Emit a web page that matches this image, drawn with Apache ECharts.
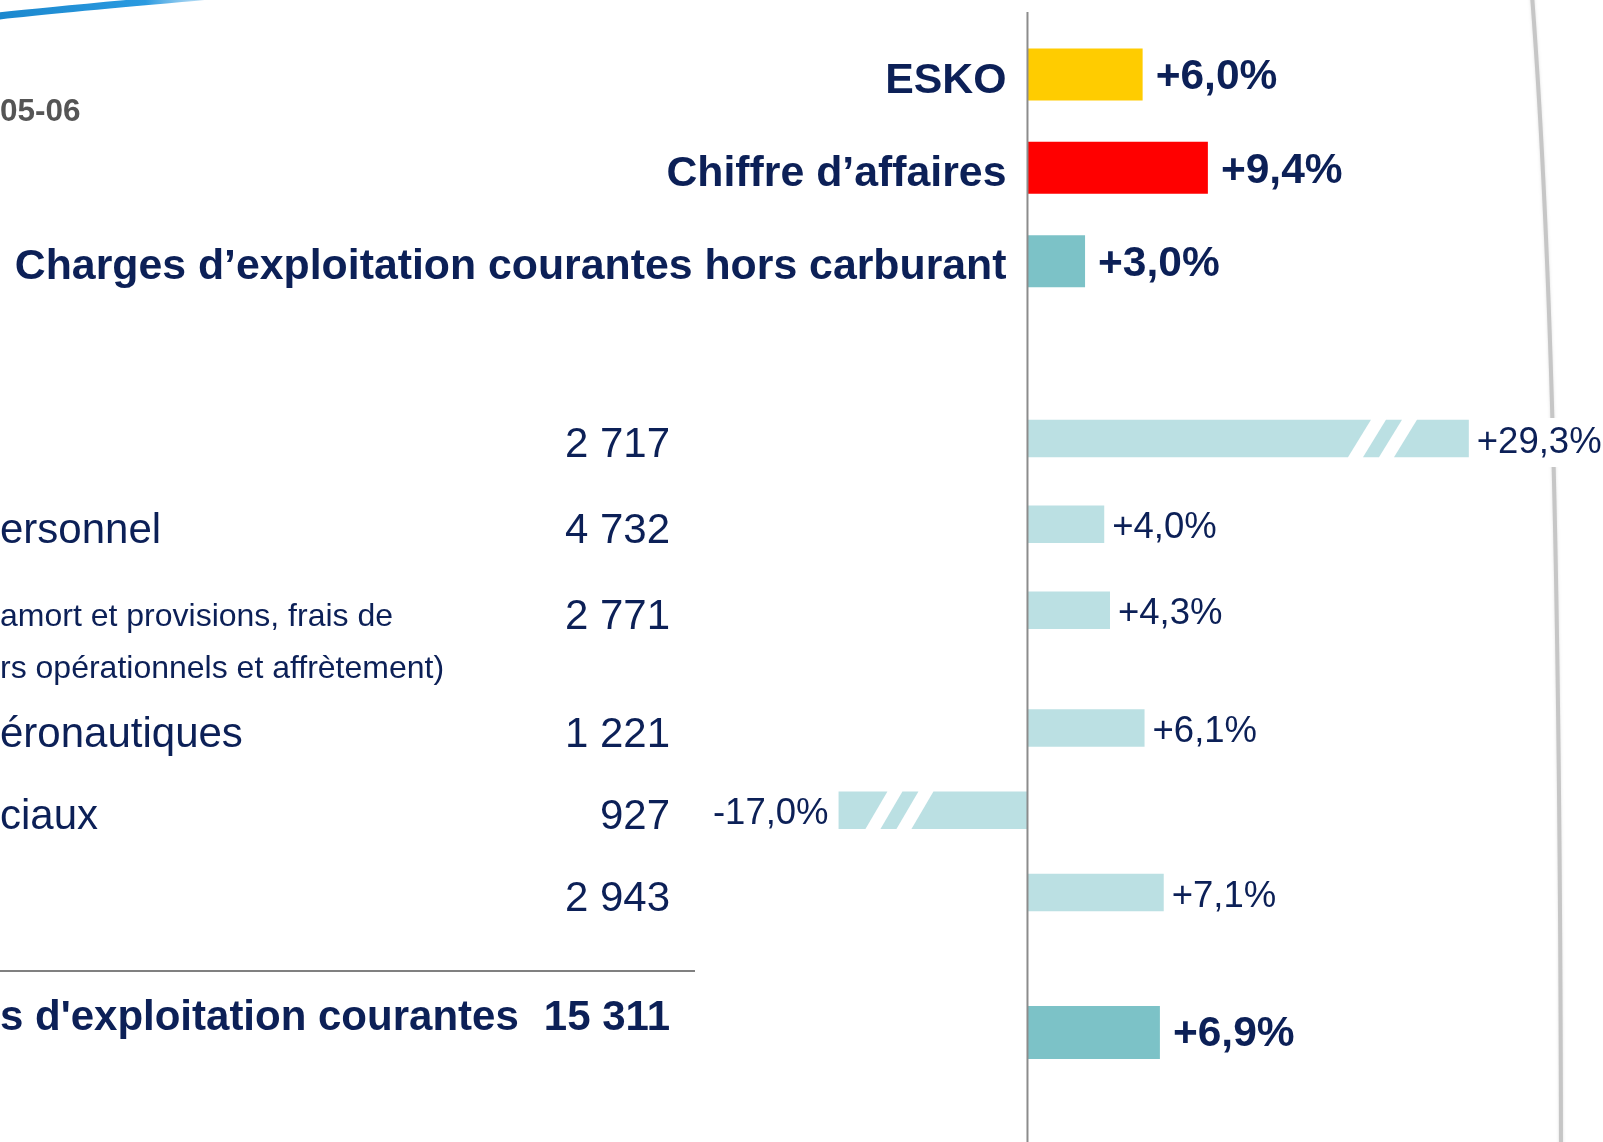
<!DOCTYPE html>
<html lang="fr">
<head>
<meta charset="UTF-8">
<title>Charges d'exploitation courantes</title>
<style>
  html, body { margin: 0; padding: 0; background: #fff; }
  #main { width: 1603px; height: 1142px; }
</style>
<script src="https://cdn.jsdelivr.net/npm/echarts@6.0.0/dist/echarts.min.js"></script>
</head>
<body>
<div id="main"></div>
<script>
// --- data ---
var headCats = ['ESKO', 'Chiffre d’affaires', 'Charges d’exploitation courantes hors carburant'];
var headValues = [6.0, 9.4, 3.0];

var detailNames = ['', 'ersonnel', 'amort et provisions, frais de\nrs opérationnels et affrètement)', 'éronautiques', 'ciaux', ''];
var detailAmounts = [2717, 4732, 2771, 1221, 927, 2943];
var detailValues = [29.3, 4.0, 4.3, 6.1, -17.0, 7.1];

var totalName = 's d\'exploitation courantes';
var totalAmount = 15311;
var totalValue = 6.9;

var periodText = '05-06';

// --- styles / layout ---
var navy = '#0c2057';
var headColors = ['#ffcc00', '#ff0000', '#7cc2c7'];
var detailColor = '#bbe0e3';
var totalColor = '#7cc2c7';
var FONT = '"Liberation Sans", Arial, Helvetica, sans-serif';
var GRID_LEFT = 781;

// the detail table is split in two blocks (the two-line row makes the gap uneven)
var detailBlocks = [
  { from: 0, to: 3, top: 395.5, height: 257.7 },
  { from: 3, to: 6, top: 686.8, height: 246.8 }
];

// axis breaks for the two very long bars (drawn with two white slashes)
var axisBreaks = [
  { start: -15.6, end: -4.9, gap: '8.74%' },
  { start: 16.7, end: 26.6, gap: '8.87%' }
];
var cutGap = 15, cutPiece = 16;

function fmtPct(v) {
  return (v > 0 ? '+' : '') + v.toFixed(1).replace('.', ',') + '%';
}
function fmtAmount(n) {
  return String(n).replace(/\B(?=(\d{3})+(?!\d))/g, ' ');
}

function makeRender(opt) {
  return function (params, api) {
    var v = api.value(0), c = api.value(1);
    var base = api.coord([0, c]);
    var tip = api.coord([v, c]);
    var h = opt.barHeight;
    var yt = base[1] - h / 2, yb = base[1] + h / 2;
    var lo = Math.min(base[0], tip[0]), hi = Math.max(base[0], tip[0]);
    var color = opt.colors ? opt.colors[params.dataIndex] : opt.color;
    var children = [];
    var br = null;
    axisBreaks.forEach(function (b) {
      if ((v > 0 && b.start > 0 && v > b.end) || (v < 0 && b.end < 0 && v < b.start)) br = b;
    });
    if (br) {
      var pl = api.coord([br.start, c])[0], ph = api.coord([br.end, c])[0];
      var slant = (ph - pl) - 2 * cutGap - cutPiece;
      var segs = [
        [lo, pl, lo, pl + slant],
        [pl + cutGap, pl + cutGap + cutPiece, pl + cutGap + slant, pl + cutGap + cutPiece + slant],
        [ph - slant, hi, ph, hi]
      ];
      segs.forEach(function (s) {
        children.push({
          type: 'polygon',
          shape: { points: [[s[0], yb], [s[1], yb], [s[3], yt], [s[2], yt]] },
          style: { fill: color }
        });
      });
    } else {
      children.push({
        type: 'rect',
        shape: { x: lo, y: yt, width: hi - lo, height: h },
        style: { fill: color }
      });
    }
    children.push({
      type: 'text',
      x: v >= 0 ? hi + opt.labelGap : lo - opt.labelGap,
      y: base[1] + (opt.labelDy || 0),
      style: {
        text: fmtPct(v),
        align: v >= 0 ? 'left' : 'right',
        verticalAlign: 'middle',
        fill: navy,
        fontSize: opt.fontSize,
        fontWeight: opt.fontWeight,
        fontFamily: FONT,
        backgroundColor: '#fff',
        padding: [6, 2, 6, 0]
      }
    });
    return { type: 'group', children: children };
  };
}

function xAxisFor(gridIndex) {
  return {
    type: 'value',
    gridIndex: gridIndex,
    min: -20,
    max: 34,
    show: false,
    splitLine: { show: false },
    breaks: axisBreaks.map(function (b) { return { start: b.start, end: b.end, gap: b.gap }; }),
    breakArea: { show: false }
  };
}

function detailLabel(i) {
  var lines = detailNames[i].split('\n');
  var amt = fmtAmount(detailAmounts[i]);
  if (lines.length === 1) {
    return '{n|' + (lines[0] || ' ') + '}{v|' + amt + '}';
  }
  var out = '{v| }\n{ns|' + lines[0] + '}{v|' + amt + '}';
  for (var k = 1; k < lines.length; k++) out += '\n{ns|' + lines[k] + '}{v| }';
  return out;
}

function gridAt(top, height) {
  return { left: GRID_LEFT, right: 44, top: top, height: height, outerBoundsMode: 'none', containLabel: false };
}

var grids = [gridAt(27.8, 280)];
var xAxes = [xAxisFor(0)];
var yAxes = [{
  type: 'category', gridIndex: 0, inverse: true,
  data: headCats,
  axisLine: { show: false, onZero: false },
  axisTick: { show: false },
  axisLabel: {
    interval: 0, margin: 21, color: navy, fontFamily: FONT,
    formatter: function (value) { return '{h|' + value + '}'; },
    rich: {
      h: { fontSize: 42.8, fontWeight: 'bold', color: navy, fontFamily: FONT, padding: [13, 0, 0, 0] }
    }
  }
}];
var series = [{
  type: 'custom', xAxisIndex: 0, yAxisIndex: 0, silent: true,
  encode: { x: 0, y: 1 },
  data: headValues.map(function (v, i) { return [v, i]; }),
  renderItem: makeRender({ barHeight: 52, colors: headColors, fontSize: 42.5, fontWeight: 'bold', labelGap: 13, labelDy: 3 })
}];

detailBlocks.forEach(function (blk) {
  var gi = grids.length;
  var idx = [];
  for (var i = blk.from; i < blk.to; i++) idx.push(i);
  grids.push(gridAt(blk.top, blk.height));
  xAxes.push(xAxisFor(gi));
  yAxes.push({
    type: 'category', gridIndex: gi, inverse: true,
    data: idx.map(function (i) { return 'r' + i; }),
    axisLine: { show: false, onZero: false },
    axisTick: { show: false },
    axisLabel: {
      interval: 0, margin: GRID_LEFT - 670, color: navy, fontFamily: FONT, padding: [14, 0, 0, 0],
      formatter: function (value, k) { return detailLabel(idx[k]); },
      rich: {
        n: { width: 560, align: 'left', fontSize: 42, color: navy, fontFamily: FONT, lineHeight: 52 },
        ns: { width: 560, align: 'left', fontSize: 32, color: navy, fontFamily: FONT, lineHeight: 52 },
        v: { width: 110, align: 'right', fontSize: 42, color: navy, fontFamily: FONT, lineHeight: 52 }
      }
    }
  });
  series.push({
    type: 'custom', xAxisIndex: gi, yAxisIndex: gi, silent: true,
    encode: { x: 0, y: 1 },
    data: idx.map(function (i, k) { return [detailValues[i], k]; }),
    renderItem: makeRender({ barHeight: 37.5, color: detailColor, fontSize: 36.5, fontWeight: 'normal', labelGap: 8, labelDy: 4 })
  });
});

var tgi = grids.length;
grids.push(gridAt(982.5, 100));
xAxes.push(xAxisFor(tgi));
yAxes.push({
  type: 'category', gridIndex: tgi, inverse: true,
  data: ['total'],
  axisLine: { show: false, onZero: false },
  axisTick: { show: false },
  axisLabel: {
    interval: 0, margin: GRID_LEFT - 670, color: navy, fontFamily: FONT, padding: [0, 0, 29, 0],
    formatter: function () {
      return '{n|' + totalName + '}{v|' + fmtAmount(totalAmount) + '}';
    },
    rich: {
      n: { width: 560, align: 'left', fontSize: 42, fontWeight: 'bold', color: navy, fontFamily: FONT },
      v: { width: 110, align: 'right', fontSize: 42, fontWeight: 'bold', color: navy, fontFamily: FONT }
    }
  }
});
series.push({
  type: 'custom', xAxisIndex: tgi, yAxisIndex: tgi, silent: true,
  encode: { x: 0, y: 1 },
  data: [[totalValue, 0]],
  renderItem: makeRender({ barHeight: 53, color: totalColor, fontSize: 42.5, fontWeight: 'bold', labelGap: 13, labelDy: 2 })
});

var chart = echarts.init(document.getElementById('main'));
chart.setOption({
  animation: false,
  backgroundColor: '#fff',
  grid: grids,
  xAxis: xAxes,
  yAxis: yAxes,
  graphic: [
    {
      id: 'arc', type: 'bezierCurve', z: 0, silent: true,
      shape: { x1: -10, y1: 17, cpx1: 50, cpy1: 10, cpx2: 120, cpy2: 4, x2: 210, y2: -4 },
      style: {
        fill: null, lineWidth: 7,
        stroke: new echarts.graphic.LinearGradient(0, 0, 1, 0, [
          { offset: 0, color: '#1a86cc' },
          { offset: 0.7, color: '#2a9ae0' },
          { offset: 1, color: 'rgba(120,190,235,0.4)' }
        ])
      }
    },
    {
      id: 'curve', type: 'bezierCurve', z: 0, silent: true,
      shape: { x1: 1532, y1: -5, cpx1: 1552, cpy1: 260, cpx2: 1560, cpy2: 600, x2: 1561, y2: 1150 },
      style: { fill: null, stroke: '#c6c6c6', lineWidth: 4, shadowBlur: 3, shadowColor: 'rgba(0,0,0,0.12)' }
    },
    {
      id: 'period', type: 'text', left: 0, top: 96, silent: true,
      style: { text: periodText, fontSize: 31.5, fontWeight: 'bold', fontFamily: FONT, fill: '#555555' }
    },
    {
      id: 'rule', type: 'line', z: 5, silent: true,
      shape: { x1: 0, y1: 971, x2: 695, y2: 971 },
      style: { stroke: '#808080', lineWidth: 2 }
    }
  ],
  series: series
});

// zero of the value axis: continuous line, and the header labels sit against it
var zx = chart.convertToPixel({ xAxisIndex: 0 }, 0);
chart.setOption({
  yAxis: [{ offset: -(zx - GRID_LEFT) }],
  graphic: [{
    id: 'zero', type: 'line', z: 10, silent: true,
    shape: { x1: zx, y1: 12, x2: zx, y2: 1142 },
    style: { stroke: '#8c8c8c', lineWidth: 2 }
  }]
});
</script>
</body>
</html>
